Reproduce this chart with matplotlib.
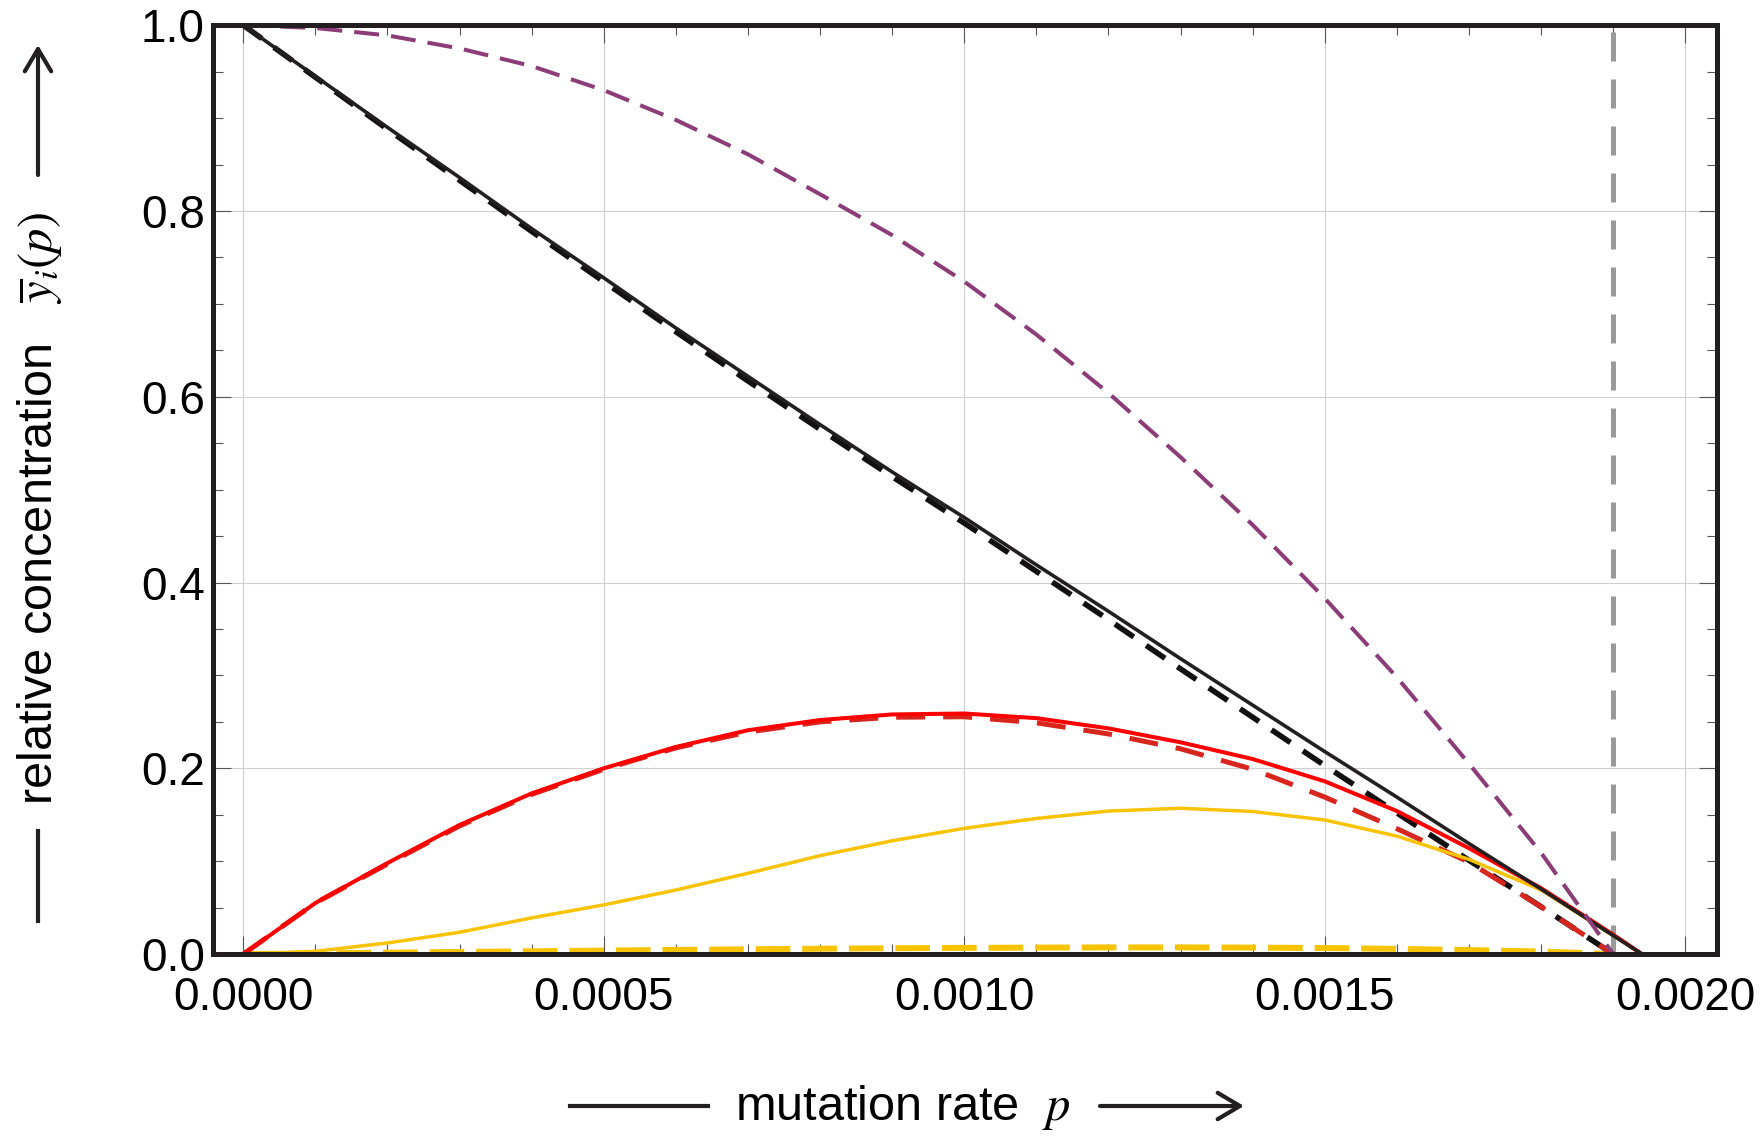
import matplotlib
matplotlib.use('Agg')
import matplotlib.pyplot as plt
from matplotlib.ticker import MultipleLocator, FormatStrFormatter
from matplotlib.lines import Line2D
from matplotlib.patches import FancyArrowPatch

plt.rcParams['font.family'] = ['Liberation Sans', 'DejaVu Sans']
plt.rcParams['mathtext.fontset'] = 'stix'

# mutation rate grid
p_grid = [0.0000, 0.0001, 0.0002, 0.0003, 0.0004, 0.0005, 0.0006, 0.0007, 0.0008, 0.0009,
          0.0010, 0.0011, 0.0012, 0.0013, 0.0014, 0.0015, 0.0016, 0.0017, 0.0018, 0.0019]
p_tail = [0.00194]          # where the solid curves meet zero
p_end = [0.00205]           # solid black stays on zero up to the frame
p_threshold = 0.0019        # grey dashed line (error threshold)

# solid curves
black_solid = [1.000, 0.945, 0.890, 0.836, 0.781, 0.728, 0.674, 0.622, 0.570, 0.519,
               0.470, 0.419, 0.369, 0.318, 0.268, 0.218, 0.169, 0.119, 0.070, 0.020, 0.0, 0.0]
red_solid = [0.0, 0.055, 0.098, 0.139, 0.173, 0.200, 0.223, 0.241, 0.252, 0.258,
             0.259, 0.254, 0.243, 0.228, 0.210, 0.186, 0.154, 0.114, 0.071, 0.021, 0.0]
yellow_solid = [0.0, 0.003, 0.012, 0.0235, 0.039, 0.053, 0.069, 0.087, 0.106, 0.122,
                0.1354, 0.146, 0.154, 0.157, 0.1535, 0.1444, 0.127, 0.102, 0.069, 0.020, 0.0]

# dashed curves (end at the threshold)
black_dashed = [1.000, 0.944, 0.888, 0.833, 0.778, 0.724, 0.670, 0.617, 0.565, 0.514,
                0.464, 0.412, 0.360, 0.307, 0.255, 0.203, 0.152, 0.101, 0.051, 0.0]
red_dashed = [0.0, 0.055, 0.097, 0.138, 0.172, 0.199, 0.222, 0.239, 0.250, 0.255,
              0.2555, 0.249, 0.237, 0.221, 0.199, 0.169, 0.135, 0.099, 0.051, 0.0]
yellow_dashed = [0.0, 0.0008, 0.0015, 0.0023, 0.0030, 0.0038, 0.0045, 0.0052, 0.0058, 0.0063,
                 0.0067, 0.0070, 0.0072, 0.0072, 0.0070, 0.0065, 0.0056, 0.0044, 0.0027, 0.0]
purple_dashed = [1.000, 0.997, 0.989, 0.975, 0.956, 0.930, 0.898, 0.861, 0.818, 0.774,
                 0.724, 0.667, 0.604, 0.535, 0.462, 0.383, 0.298, 0.205, 0.109, 0.0]

ink = '#231f20'
W, H = 1761, 1136


def fx(px):
    return px / W


def fy(py):
    return 1 - py / H


fig = plt.figure(figsize=(W / 100, H / 100), dpi=100)
ax = fig.add_axes([fx(213), fy(954.1), fx(1717) - fx(213), fy(25.2) - fy(954.1)])

ax.axvline(p_threshold, color='#999999', lw=3.6, dashes=(5.8, 3.6), zorder=1.5)
ax.plot(p_grid, yellow_dashed, color='#f8c300', lw=4.3, dashes=(5.8, 2.0))
ax.plot(p_grid, black_dashed, color='#111111', lw=4.0, dashes=(4.1, 2.7))
ax.plot(p_grid, red_dashed, color='#d7261e', lw=3.6, dashes=(5.8, 3.6))
ax.plot(p_grid + p_tail, yellow_solid, color='#f8c300', lw=2.5)
ax.plot(p_grid + p_tail, red_solid, color='#ff0000', lw=2.9)
ax.plot(p_grid + p_tail + p_end, black_solid, color=ink, lw=2.6)
ax.plot(p_grid, purple_dashed, color='#8c3c78', lw=2.9, dashes=(6.2, 3.0))

ax.set_xlim(-0.0000420, 0.0020440)
ax.set_ylim(0, 1)
ax.xaxis.set_major_locator(MultipleLocator(0.0005))
ax.xaxis.set_minor_locator(MultipleLocator(0.0001))
ax.yaxis.set_major_locator(MultipleLocator(0.2))
ax.yaxis.set_minor_locator(MultipleLocator(0.05))
ax.xaxis.set_major_formatter(FormatStrFormatter('%.4f'))
ax.yaxis.set_major_formatter(FormatStrFormatter('%.1f'))

ax.tick_params(which='both', direction='in', top=True, right=True, color='#555555', width=0.8)
ax.tick_params(which='major', length=13, labelsize=33, labelcolor='black')
ax.tick_params(which='minor', length=7)
ax.tick_params(axis='x', which='major', pad=16)
ax.tick_params(axis='y', which='major', pad=6)
ax.grid(which='major', color='#cfcfcf', lw=0.8)
ax.set_axisbelow(True)
for s in ax.spines.values():
    s.set_linewidth(3.6)
    s.set_color(ink)

# axis labels with the arrow decorations
fig.text(fx(40), fy(508), 'relative concentration   $\\overline{y}_i(p)$', rotation=90,
         ha='center', va='center', fontsize=35)
fig.text(fx(903), fy(1108), 'mutation rate  $p$', ha='center', va='center', fontsize=35)

fig.add_artist(Line2D([fx(570), fx(708)], [fy(1106), fy(1106)], color=ink, lw=3))
fig.add_artist(Line2D([fx(38), fx(38)], [fy(831), fy(921)], color=ink, lw=3))
arrow_style = '->,head_length=16,head_width=9.5'
fig.add_artist(FancyArrowPatch((fx(1100), fy(1106)), (fx(1244), fy(1106)), transform=fig.transFigure,
                               arrowstyle=arrow_style, lw=3, color=ink, shrinkA=0, shrinkB=0))
fig.add_artist(FancyArrowPatch((fx(38), fy(175)), (fx(38), fy(45)), transform=fig.transFigure,
                               arrowstyle=arrow_style, lw=3, color=ink, shrinkA=0, shrinkB=0))

fig.savefig('out.png', dpi=100)
